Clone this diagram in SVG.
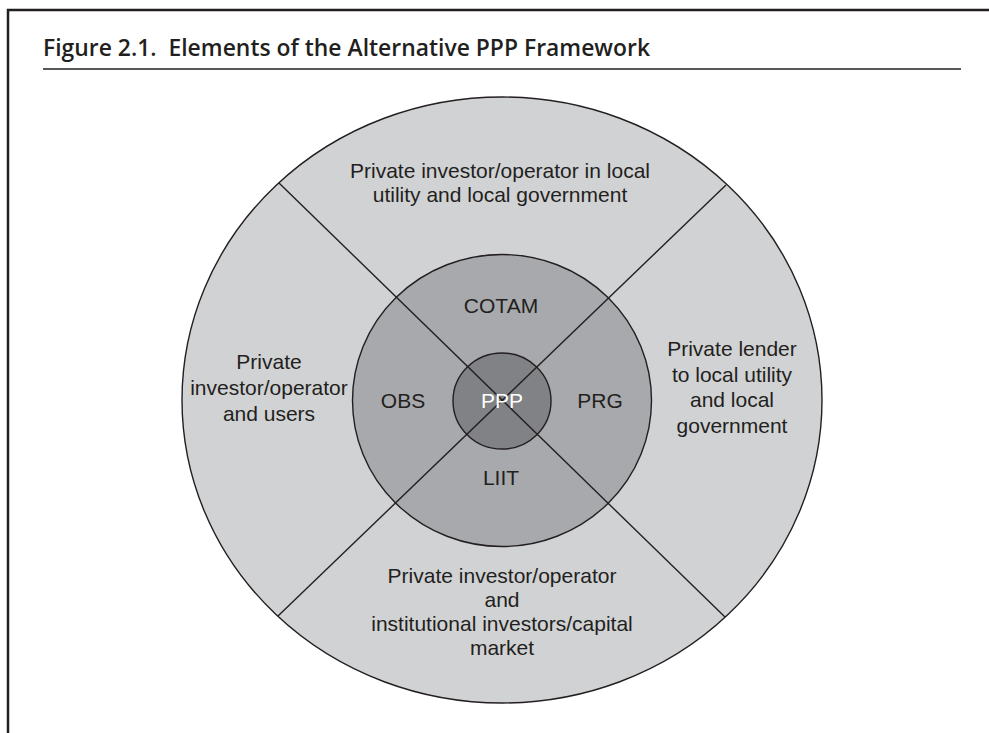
<svg xmlns="http://www.w3.org/2000/svg" width="989" height="733" viewBox="0 0 989 733">
<style>
.frame{stroke:#231f20;stroke-width:2.5;fill:none}
.ring{stroke:#231f20;stroke-width:1.4}
.div{stroke:#231f20;stroke-width:1.4;fill:none}
.lbl{font-family:"Liberation Sans",Arial,sans-serif;font-size:21px;fill:#231f20;text-anchor:middle}
.title{font-family:"Open Sans","DejaVu Sans",sans-serif;font-weight:600;font-size:23px;fill:#231f20;white-space:pre}
</style>
<rect width="989" height="733" fill="#ffffff"/>
<g id="frame">
<path class="frame" d="M8 733 V10 H989"/>
<text class="title" x="43" y="56" textLength="607" lengthAdjust="spacingAndGlyphs">Figure 2.1.  Elements of the Alternative PPP Framework</text>
<line x1="43" y1="69" x2="961" y2="69" stroke="#231f20" stroke-width="1.5"/>
</g>
<g id="outer">
<ellipse class="ring" cx="502" cy="400" rx="320" ry="303" fill="#d1d2d4"/>
</g>
<g id="middle">
<ellipse class="ring" cx="502" cy="400.5" rx="149.5" ry="146" fill="#a7a9ac"/>
</g>
<g id="inner">
<ellipse class="ring" cx="502" cy="401" rx="49" ry="48" fill="#808285"/>
</g>
<g id="connectors">
<line class="div" x1="279" y1="183" x2="725" y2="617"/>
<line class="div" x1="726" y1="185" x2="278" y2="616"/>
</g>
<g id="top-quadrant">
<text class="lbl" x="500" y="178">Private investor/operator in local</text>
<text class="lbl" x="500" y="202">utility and local government</text>
</g>
<g id="left-quadrant">
<text class="lbl" x="269" y="369">Private</text>
<text class="lbl" x="269" y="395">investor/operator</text>
<text class="lbl" x="269" y="421">and users</text>
</g>
<g id="right-quadrant">
<text class="lbl" x="732" y="356">Private lender</text>
<text class="lbl" x="732" y="381.5">to local utility</text>
<text class="lbl" x="732" y="407">and local</text>
<text class="lbl" x="732" y="432.5">government</text>
</g>
<g id="bottom-quadrant">
<text class="lbl" x="502" y="583">Private investor/operator</text>
<text class="lbl" x="502" y="607">and</text>
<text class="lbl" x="502" y="631">institutional investors/capital</text>
<text class="lbl" x="502" y="655">market</text>
</g>
<g id="cotam"><text class="lbl" x="501" y="313">COTAM</text></g>
<g id="obs"><text class="lbl" x="403" y="408">OBS</text></g>
<g id="prg"><text class="lbl" x="600" y="408">PRG</text></g>
<g id="liit"><text class="lbl" x="501" y="485">LIIT</text></g>
<g id="ppp"><text class="lbl" x="502" y="408" style="fill:#ffffff">PPP</text></g>
</svg>
